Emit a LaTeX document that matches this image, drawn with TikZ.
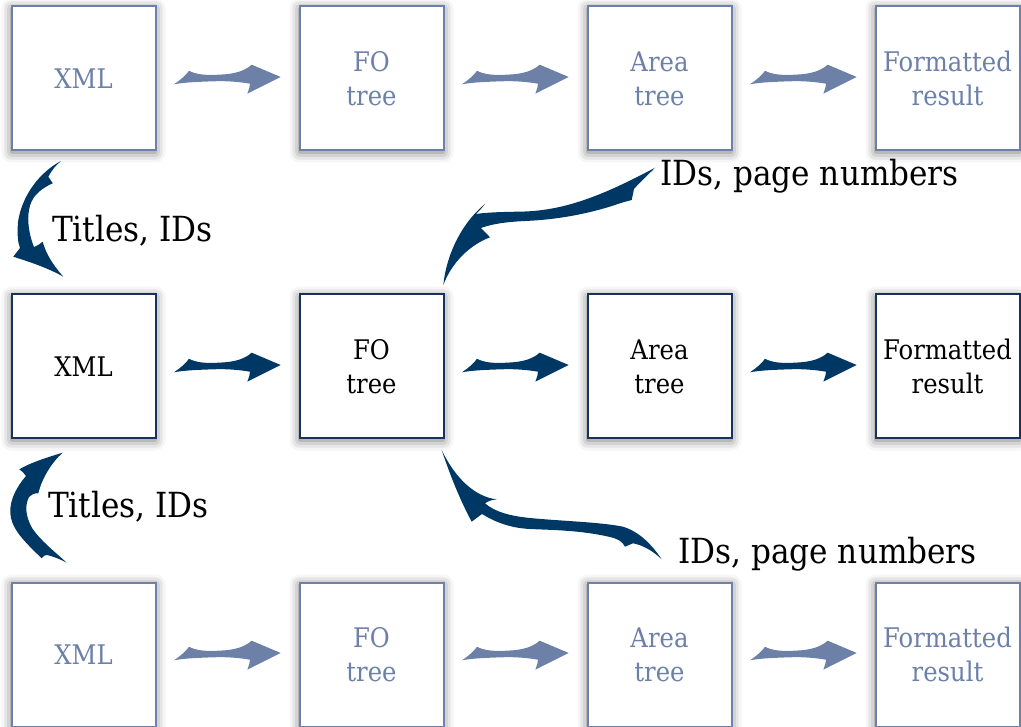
\documentclass[tikz,border=0pt]{standalone}
\usepackage{fontspec}
\setmainfont[FakeStretch=0.9]{DejaVu Serif}
\usetikzlibrary{shadows.blur,calc}
\definecolor{dark}{RGB}{0,56,101}
\definecolor{darkborder}{RGB}{24,50,92}
\definecolor{faded}{RGB}{108,128,168}
\begin{document}
\begin{tikzpicture}[x=1pt,y=-1pt,
  box/.style={draw, line width=2pt, minimum width=144pt, minimum height=144pt,
    inner sep=0pt, fill=white, align=center, font=\fontsize{27}{34}\selectfont,
    blur shadow={shadow xshift=0pt, shadow yshift=-2pt, shadow blur radius=10pt, shadow opacity=55}},
  fadedbox/.style={box, draw=faded, text=faded},
  darkbox/.style={box, draw=darkborder, text=black},
  lbl/.style={anchor=base west, inner sep=0pt, font=\fontsize{34.6}{40}\selectfont},
  harrow/.pic={
    \fill (0,0) .. controls (6,-4) and (12,-9) .. (15,-13.5)
      .. controls (22,-10) and (30,-9) .. (42,-9.5)
      .. controls (55,-10) and (68,-11) .. (77.7,-19.6)
      -- (106.7,-7.3) -- (73.3,9.4)
      .. controls (75,5) and (76,2) .. (76,-0.6)
      .. controls (65,-2.5) and (52,-3.5) .. (40,-3)
      .. controls (25,-2.5) and (10,-2) .. (0,0) -- cycle;
  }
]
\useasboundingbox (0,0) rectangle (1021,727);
% row 1 (faded)
\node[fadedbox] (b11) at (83.5,78.5) {XML};
\node[fadedbox] (b12) at (371.5,78.5) {FO\\tree};
\node[fadedbox] (b13) at (659.5,78.5) {Area\\tree};
\node[fadedbox] (b14) at (947.5,78.5) {Formatted\\result};
% row 2 (dark)
\node[darkbox] (b21) at (83.5,366.5) {XML};
\node[darkbox] (b22) at (371.5,366.5) {FO\\tree};
\node[darkbox] (b23) at (659.5,366.5) {Area\\tree};
\node[darkbox] (b24) at (947.5,366.5) {Formatted\\result};
% row 3 (faded)
\node[fadedbox] (b31) at (83.5,654.5) {XML};
\node[fadedbox] (b32) at (371.5,654.5) {FO\\tree};
\node[fadedbox] (b33) at (659.5,654.5) {Area\\tree};
\node[fadedbox] (b34) at (947.5,654.5) {Formatted\\result};
% horizontal arrows
\pic[color=faded] at ($(b11.east)+(17.5,5.8)$) {harrow};
\pic[color=faded] at ($(b12.east)+(17.5,5.8)$) {harrow};
\pic[color=faded] at ($(b13.east)+(17.5,5.8)$) {harrow};
\pic[color=dark] at ($(b21.east)+(17.5,5.8)$) {harrow};
\pic[color=dark] at ($(b22.east)+(17.5,5.8)$) {harrow};
\pic[color=dark] at ($(b23.east)+(17.5,5.8)$) {harrow};
\pic[color=faded] at ($(b31.east)+(17.5,5.8)$) {harrow};
\pic[color=faded] at ($(b32.east)+(17.5,5.8)$) {harrow};
\pic[color=faded] at ($(b33.east)+(17.5,5.8)$) {harrow};
% curved arrows
\fill[dark] (61,161) .. controls (40,172) and (22,195) .. (18,222)
  .. controls (17,235) and (18,243) .. (20,248) -- (13.3,256.7)
  .. controls (30,262) and (48,268) .. (63.3,276.7)
  .. controls (53,265) and (46,254) .. (42.7,241.7)
  .. controls (40,244) and (37,246) .. (34,247)
  .. controls (29,235) and (27,220) .. (29,210)
  .. controls (31,198) and (38,190) .. (52.7,183.3) -- (48.3,176.7)
  .. controls (52,170) and (56,165) .. (61,161) -- cycle;
\fill[dark] (62.7,452.7) .. controls (45,458) and (30,463) .. (19.3,469.3)
  .. controls (22,471) and (24,473) .. (26,476)
  .. controls (14,490) and (8,505) .. (11,518)
  .. controls (14,532) and (28,545) .. (41.7,558.3)
  .. controls (43,556) and (45,555) .. (47,555)
  .. controls (55,557) and (62,560) .. (66.7,562.7)
  .. controls (55,552) and (40,540) .. (32,528)
  .. controls (25,515) and (25,505) .. (29,497)
  .. controls (31,495) and (34,493) .. (38.3,493.3)
  .. controls (42,478) and (52,462) .. (62.7,452.7) -- cycle;
\fill[dark] (443.3,285) .. controls (447,250) and (465,220) .. (485,204)
  .. controls (482,208) and (479,211) .. (476,214)
  .. controls (490,212) and (505,212) .. (525,211.5)
  .. controls (560,210) and (595,200) .. (655,167.7)
  .. controls (648,175) and (640,182) .. (634,189) -- (631.7,200)
  .. controls (628,201) and (620,203) .. (612,206)
  .. controls (580,216) and (550,220) .. (525,221)
  .. controls (505,222) and (492,224) .. (481,228) -- (490,237.3)
  .. controls (470,245) and (452,262) .. (443.3,285) -- cycle;
\fill[dark] (441.7,450) .. controls (455,478) and (475,497) .. (496.7,499.3)
  .. controls (492,500) and (488,501) .. (485,503.3)
  .. controls (495,512) and (510,516) .. (530,518)
  .. controls (560,521) and (600,522) .. (623,526.7)
  .. controls (640,532) and (652,545) .. (661.7,559.3)
  .. controls (652,550) and (642,545) .. (633,543.3) -- (625,546.7)
  .. controls (622,541) and (618,539) .. (610,537)
  .. controls (580,530) and (550,530) .. (530,529)
  .. controls (510,528) and (495,522) .. (482,514) -- (471.7,521.7)
  .. controls (460,500) and (450,475) .. (441.7,450) -- cycle;
% labels
\node[lbl] (t1) at (52,241.5) {Titles, IDs};
\node[lbl] (t2) at (48,518) {Titles, IDs};
\node[lbl] (p1) at (660,186) {IDs, page numbers};
\node[lbl] (p2) at (678,563) {IDs, page numbers};
\end{tikzpicture}
\end{document}
